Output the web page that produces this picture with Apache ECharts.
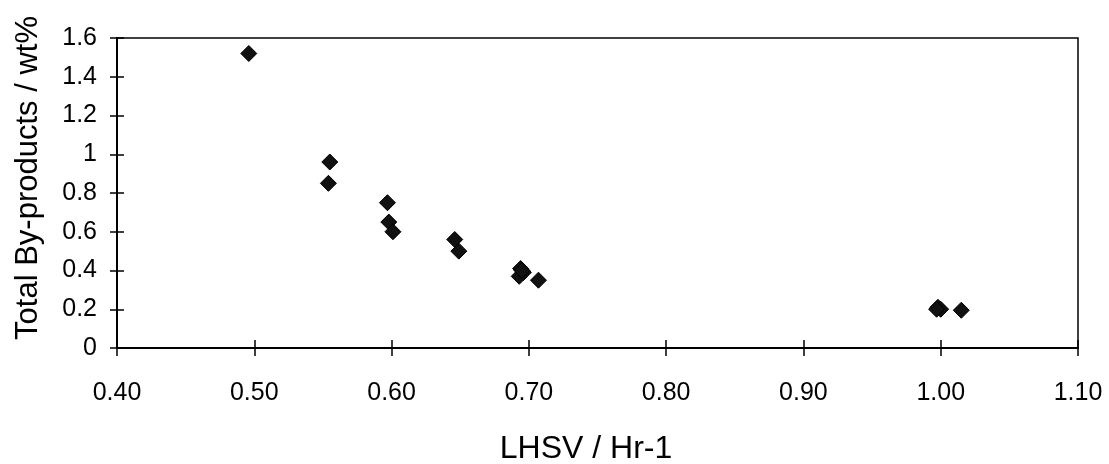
<!DOCTYPE html>
<html>
<head>
<meta charset="utf-8">
<script src="https://cdn.jsdelivr.net/npm/echarts@6/dist/echarts.min.js"></script>
<style>
html,body{margin:0;padding:0;background:#fff;}
#chart{width:1109px;height:464px;}
</style>
</head>
<body>
<div id="chart"></div>
<script>
// Data
var lhsv = [0.496, 0.555, 0.554, 0.597, 0.598, 0.601, 0.646, 0.649, 0.694, 0.696, 0.693, 0.695, 0.707, 0.998, 1.000, 0.997, 1.015];
var byproducts = [1.52, 0.96, 0.85, 0.75, 0.65, 0.60, 0.56, 0.50, 0.41, 0.39, 0.37, 0.40, 0.35, 0.21, 0.20, 0.20, 0.195];
var xTitle = 'LHSV / Hr-1';
var yTitle = 'Total By-products / wt%';

var points = lhsv.map(function (x, i) { return [x, byproducts[i]]; });
var FONT = '"Liberation Sans", Arial, sans-serif';

var chart = echarts.init(document.getElementById('chart'), null, { renderer: 'canvas' });

function xAxisDef(inside, showLabel) {
  return {
    type: 'value', min: 0.4, max: 1.1, interval: 0.1, position: 'bottom',
    axisLine: { show: true, lineStyle: { color: '#000', width: 2 } },
    axisTick: { show: true, inside: inside, length: 8, lineStyle: { color: '#000', width: 1.5 } },
    axisLabel: { show: showLabel, margin: 33, fontFamily: FONT, fontSize: 25, color: '#000',
      formatter: function (v) { return v.toFixed(2); } },
    splitLine: { show: false }
  };
}
function yAxisDef(inside, showLabel) {
  return {
    type: 'value', min: 0, max: 1.6, interval: 0.2, position: 'left',
    axisLine: { show: true, lineStyle: { color: '#000', width: 2 } },
    axisTick: { show: true, inside: inside, length: 7, lineStyle: { color: '#000', width: 1.5 } },
    axisLabel: { show: showLabel, margin: 20, fontFamily: FONT, fontSize: 25, color: '#000',
      formatter: function (v) { return String(Math.round(v * 10) / 10); } },
    splitLine: { show: false }
  };
}

chart.setOption({
  backgroundColor: '#fff',
  animation: false,
  grid: { left: 117, right: 31, top: 38, bottom: 116, show: true, borderColor: '#000', borderWidth: 1.5, backgroundColor: 'transparent' },
  xAxis: [xAxisDef(false, true), xAxisDef(true, false)],
  yAxis: [yAxisDef(false, true), yAxisDef(true, false)],
  graphic: [
    { type: 'text', x: 586, y: 449, style: { text: xTitle, font: '32px ' + FONT, fill: '#000', textAlign: 'center', textVerticalAlign: 'middle' } },
    { type: 'text', x: 28, y: 178, rotation: Math.PI / 2, style: { text: yTitle, font: '31px ' + FONT, fill: '#000', textAlign: 'center', textVerticalAlign: 'middle' } }
  ],
  series: [{
    type: 'scatter',
    xAxisIndex: 0, yAxisIndex: 0,
    data: points,
    symbol: 'diamond',
    symbolSize: 16,
    itemStyle: { color: '#111', borderColor: '#000', borderWidth: 1, opacity: 1 }
  }]
});
</script>
</body>
</html>
